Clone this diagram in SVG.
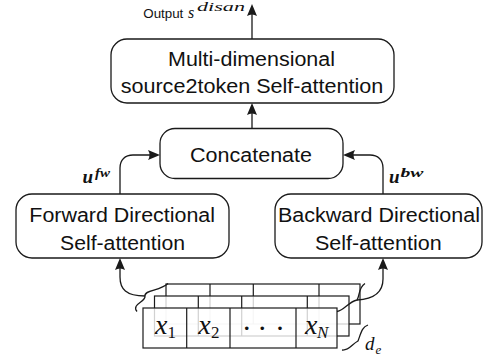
<svg xmlns="http://www.w3.org/2000/svg" width="487" height="362" viewBox="0 0 487 362">
<style>
.box{fill:#fff;stroke:#1a1a1a;stroke-width:1.3}
.lbl{font-family:"Liberation Sans",Arial,sans-serif;font-size:20px;fill:#111;text-anchor:middle}
.conn{fill:none;stroke:#1a1a1a;stroke-width:1.3}
.math{font-family:"Liberation Serif","Times New Roman",serif;font-style:italic;fill:#111}
.rm{font-family:"Liberation Serif","Times New Roman",serif;fill:#111}
.bm{font-family:"Liberation Serif","Times New Roman",serif;font-style:italic;font-weight:bold;fill:#111}
.cell{fill:#fff;fill-opacity:0.8;stroke:#1a1a1a;stroke-width:1.2}
.div{stroke:#1a1a1a;stroke-width:1.2}
</style>
<defs>
<marker id="ah" viewBox="0 -5 12 10" markerWidth="12" markerHeight="10" refX="8" refY="0" orient="auto" markerUnits="userSpaceOnUse">
<path d="M12,0 L0,-5 Q3,0 0,5 Z" fill="#1a1a1a"/>
</marker>
</defs>

<g id="output-label">
<text x="143.3" y="18.3" font-family="Liberation Sans, Arial, sans-serif" font-size="13.5" fill="#111" textLength="40" lengthAdjust="spacingAndGlyphs">Output</text>
<text class="math" x="188" y="18.3" font-size="16">s</text>
<text class="math" x="197" y="11" font-size="12" textLength="48" lengthAdjust="spacingAndGlyphs">disan</text>
</g>

<g id="s2t">
<rect class="box" x="111" y="39" width="283" height="64" rx="16"/>
<text class="lbl" x="251.5" y="66" textLength="167" lengthAdjust="spacingAndGlyphs">Multi-dimensional</text>
<text class="lbl" x="252" y="93" textLength="262.7" lengthAdjust="spacingAndGlyphs">source2token Self-attention</text>
</g>

<g id="concat">
<rect class="box" x="160" y="128.5" width="183" height="50" rx="15"/>
<text class="lbl" x="251" y="161.5" textLength="122" lengthAdjust="spacingAndGlyphs">Concatenate</text>
</g>

<g id="forward">
<rect class="box" x="16" y="194" width="213" height="64" rx="16"/>
<text class="lbl" x="122.2" y="222" textLength="185.7" lengthAdjust="spacingAndGlyphs">Forward Directional</text>
<text class="lbl" x="122.5" y="250" textLength="125" lengthAdjust="spacingAndGlyphs">Self-attention</text>
</g>

<g id="backward">
<rect class="box" x="275" y="194" width="207" height="64" rx="16"/>
<text class="lbl" x="379" y="222" textLength="202" lengthAdjust="spacingAndGlyphs">Backward Directional</text>
<text class="lbl" x="378.3" y="250" textLength="126.7" lengthAdjust="spacingAndGlyphs">Self-attention</text>
</g>

<g id="input">
<rect class="cell" x="166" y="284" width="194" height="40"/>
<line class="div" x1="210" y1="284" x2="210" y2="324"/>
<line class="div" x1="253.3" y1="284" x2="253.3" y2="324"/>
<line class="div" x1="319" y1="284" x2="319" y2="324"/>
<rect class="cell" x="154.5" y="296" width="194.5" height="40"/>
<line class="div" x1="198.3" y1="296" x2="198.3" y2="336"/>
<line class="div" x1="241.7" y1="296" x2="241.7" y2="336"/>
<line class="div" x1="307.3" y1="296" x2="307.3" y2="336"/>
<rect class="cell" x="143" y="308" width="194" height="40"/>
<line class="div" x1="186.7" y1="308" x2="186.7" y2="348"/>
<line class="div" x1="230" y1="308" x2="230" y2="348"/>
<line class="div" x1="296" y1="308" x2="296" y2="348"/>
<text class="math" x="155" y="334" font-size="28">x</text>
<text class="rm" x="167.5" y="337.5" font-size="17">1</text>
<text class="math" x="198.3" y="334" font-size="28">x</text>
<text class="rm" x="211" y="337.5" font-size="17">2</text>
<text class="rm" x="246.7 262.3 280" y="338" font-size="30" text-anchor="middle">···</text>
<text class="math" x="305" y="334" font-size="28">x</text>
<text class="math" x="317" y="337.5" font-size="17">N</text>
<path class="conn" d="M137,311.5 C131,304 146,302 145,296 C144,290 160,291 168,283.5"/>
<path class="conn" d="M337,311.5 C345,310 348,302 357,300 C360,296 358,288 365,283.5"/>
<path class="conn" d="M342,350 C349,351 352,344 358,341 C361,333 362,327 368,325"/>
<text class="math" x="365" y="350" font-size="19">d</text>
<text class="math" x="375.5" y="354" font-size="13">e</text>
</g>

<g id="labels">
<text class="bm" x="82.5" y="183" font-size="19">u</text>
<text class="bm" x="95" y="176.5" font-size="13" textLength="15" lengthAdjust="spacingAndGlyphs">fw</text>
<text class="bm" x="389" y="183" font-size="19">u</text>
<text class="bm" x="400.5" y="176.5" font-size="13" textLength="23" lengthAdjust="spacingAndGlyphs">bw</text>
</g>

<g id="connectors">
<path class="conn" marker-end="url(#ah)" d="M252,39 L252,8"/>
<path class="conn" marker-end="url(#ah)" d="M252,128.5 L252,107"/>
<path class="conn" marker-end="url(#ah)" d="M120,194 L120,168 C120,160 125,155 133,155 L156,155"/>
<path class="conn" marker-end="url(#ah)" d="M383,194 L383,168 C383,160 378,155 370,155 L347,155"/>
<path class="conn" marker-end="url(#ah)" d="M145,296 C126,296 120,289 120,277 L120,262"/>
<path class="conn" marker-end="url(#ah)" d="M357,300 C375,299 383,292 383,279 L383,262"/>
</g>
</svg>
